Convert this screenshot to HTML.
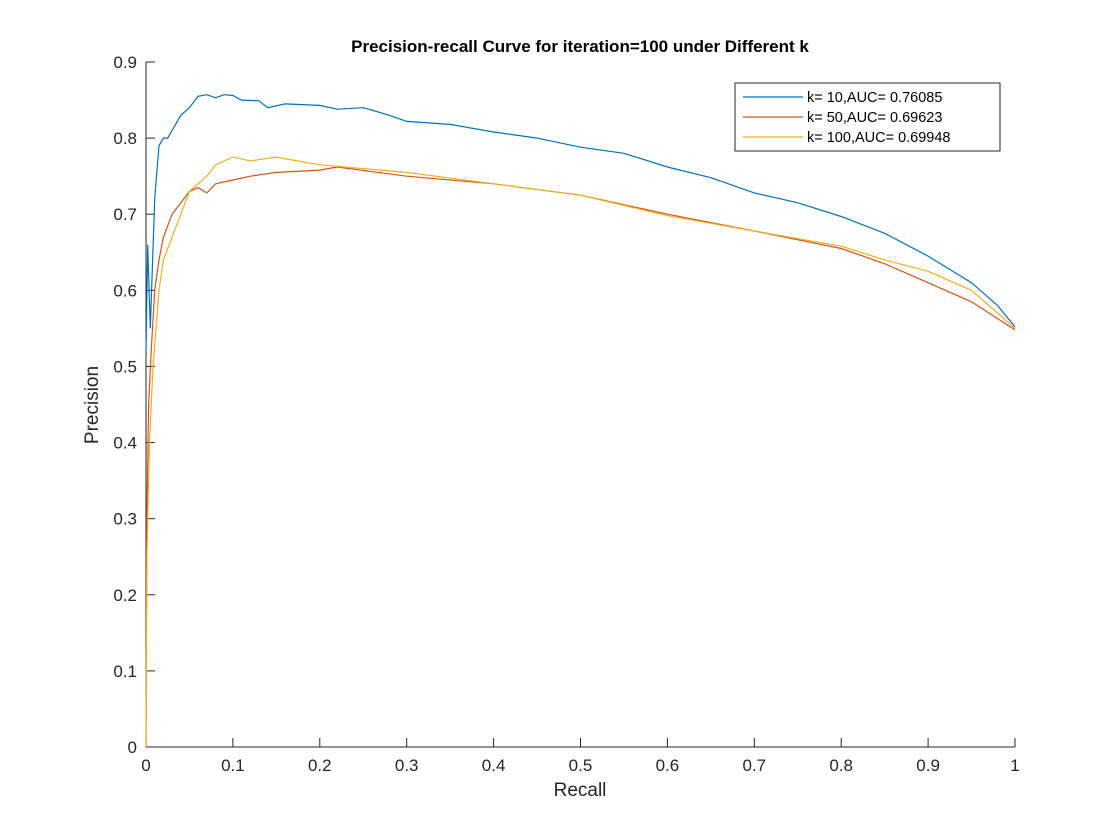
<!DOCTYPE html>
<html><head><meta charset="utf-8"><style>body{margin:0;background:#fff}svg{display:block;font-family:"Liberation Sans",sans-serif}</style></head>
<body>
<svg id="c" width="1120" height="840"></svg>
<script>
const xTicks=[0,0.1,0.2,0.3,0.4,0.5,0.6,0.7,0.8,0.9,1];
const yTicks=[0,0.1,0.2,0.3,0.4,0.5,0.6,0.7,0.8,0.9];
const seriesNames=["k= 10,AUC= 0.76085","k= 50,AUC= 0.69623","k= 100,AUC= 0.69948"];
const recallK10=[0,0.002,0.005,0.01,0.015,0.02,0.025,0.03,0.04,0.05,0.06,0.07,0.08,0.09,0.1,0.11,0.13,0.14,0.16,0.2,0.22,0.25,0.28,0.3,0.35,0.4,0.45,0.5,0.55,0.6,0.65,0.7,0.75,0.8,0.85,0.9,0.95,0.98,1];
const precK10=[0.52,0.66,0.55,0.72,0.79,0.80,0.80,0.81,0.83,0.84,0.855,0.857,0.853,0.857,0.856,0.85,0.849,0.84,0.845,0.843,0.838,0.84,0.83,0.822,0.818,0.808,0.80,0.788,0.78,0.762,0.748,0.728,0.715,0.697,0.675,0.645,0.61,0.58,0.552];
const recallK50=[0,0.001,0.003,0.006,0.01,0.015,0.02,0.03,0.04,0.05,0.06,0.07,0.08,0.1,0.12,0.15,0.2,0.22,0.3,0.4,0.5,0.6,0.7,0.8,0.85,0.9,0.95,1];
const precK50=[0,0.3,0.45,0.52,0.6,0.64,0.67,0.70,0.715,0.73,0.735,0.728,0.74,0.745,0.75,0.755,0.758,0.762,0.75,0.74,0.725,0.70,0.678,0.655,0.635,0.61,0.585,0.548];
const recallK100=[0,0.001,0.004,0.008,0.015,0.02,0.03,0.04,0.05,0.07,0.08,0.1,0.12,0.15,0.2,0.25,0.3,0.4,0.5,0.6,0.7,0.8,0.85,0.9,0.95,1];
const precK100=[0,0.25,0.4,0.5,0.6,0.64,0.67,0.70,0.73,0.75,0.765,0.775,0.77,0.775,0.765,0.76,0.755,0.74,0.725,0.698,0.678,0.658,0.64,0.625,0.60,0.55];
const colors=["#0072BD","#D95319","#EDB120"];
const svg=document.getElementById('c');const NS='http://www.w3.org/2000/svg';
const X0=146,X1=1015,Y0=747,Y1=62;
const sx=v=>X0+(X1-X0)*v, sy=v=>Y0-(Y0-Y1)*v/0.9;
function mk(t,a,p){const e=document.createElementNS(NS,t);for(const k in a)e.setAttribute(k,a[k]);(p||svg).appendChild(e);return e;}
let e=mk('path',{d:`M${X0},${Y1}V${Y0}H${X1}`,fill:'none',stroke:'#262626','stroke-width':1});


xTicks.forEach(v=>{mk('line',{x1:sx(v),x2:sx(v),y1:Y0,y2:Y0-9,stroke:'#262626'});
 const t=mk('text',{x:sx(v),y:Y0+24,'text-anchor':'middle','font-size':17,fill:'#262626'});t.textContent=v;
 
 });
yTicks.forEach(v=>{mk('line',{x1:X0,x2:X0+9,y1:sy(v),y2:sy(v),stroke:'#262626'});
 const t=mk('text',{x:X0-9,y:sy(v)+6,'text-anchor':'end','font-size':17,fill:'#262626'});t.textContent=v;
 
 });
let t=mk('text',{x:580,y:52,'text-anchor':'middle','font-size':17,'font-weight':'bold',fill:'#000'});t.textContent='Precision-recall Curve for iteration=100 under Different k';


t=mk('text',{x:580,y:796,'text-anchor':'middle','font-size':19,fill:'#262626'});t.textContent='Recall';


t=mk('text',{x:0,y:0,'text-anchor':'middle','font-size':19,fill:'#262626',transform:'translate(98,405) rotate(-90)'});t.textContent='Precision';


[[recallK10,precK10],[recallK50,precK50],[recallK100,precK100]].forEach((s,i)=>{
 const d=s[0].map((x,j)=>(j?'L':'M')+sx(x).toFixed(1)+','+sy(s[1][j]).toFixed(1)).join('');
 const p=mk('path',{d,fill:'none',stroke:colors[i],'stroke-width':1.2});
 
 });
const lg=mk('g',{});


mk('rect',{x:735,y:83,width:265,height:68,fill:'#fff',stroke:'#262626'},lg);
seriesNames.forEach((n,i)=>{const y=97+i*20;
 mk('line',{x1:743,x2:803,y1:y,y2:y,stroke:colors[i],'stroke-width':1.2},lg);
 const tt=mk('text',{x:807,y:y+5,'font-size':14.5,fill:'#000'},lg);tt.textContent=n;
 
 });
</script>
</body></html>
